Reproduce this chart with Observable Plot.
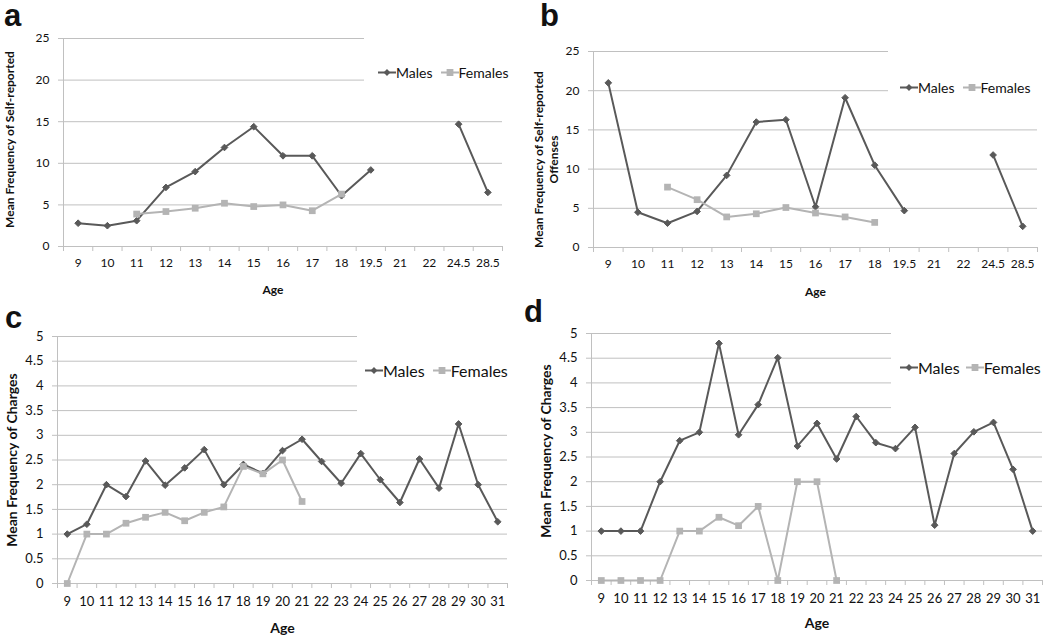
<!DOCTYPE html>
<html>
<head>
<meta charset="utf-8">
<script src="https://cdn.jsdelivr.net/npm/d3@7"></script>
<script src="https://cdn.jsdelivr.net/npm/@observablehq/plot@0.6"></script>
<style>
  body { margin: 0; background: #fff; }
  #root { position: relative; width: 1050px; height: 635px; overflow: hidden; font-family: Lato, sans-serif; background: #fff; }
  .panel { position: absolute; }
  .letter { position: absolute; font: bold 31px "Liberation Sans", Arial, sans-serif; color: #111; line-height: 1; }
  .legbox { position: absolute; background: #fff; }
  .leg { position: absolute; display: flex; align-items: center; white-space: nowrap; transform: translateY(-50%); color: #111; font-family: Lato, sans-serif; }
  .leg svg { display: block; }
</style>
</head>
<body>
<div id="root"></div>
<script>
// ---- Data ----
const agesAB = ["9","10","11","12","13","14","15","16","17","18","19.5","21","22","24.5","28.5"];
const malesA   = [2.8, 2.5, 3.1, 7.1, 9.0, 11.9, 14.4, 10.9, 10.9, 6.1, 9.2, null, null, 14.7, 6.5];
const femalesA = [null, null, 3.9, 4.2, 4.6, 5.2, 4.8, 5.0, 4.3, 6.3, null, null, null, null, null];
const malesB   = [21.0, 4.5, 3.1, 4.6, 9.2, 16.0, 16.3, 5.2, 19.1, 10.5, 4.7, null, null, 11.8, 2.7];
const femalesB = [null, null, 7.7, 6.1, 3.9, 4.3, 5.1, 4.4, 3.9, 3.2, null, null, null, null, null];

const agesCD = ["9","10","11","12","13","14","15","16","17","18","19","20","21","22","23","24","25","26","27","28","29","30","31"];
const malesC   = [1.0, 1.2, 2.0, 1.76, 2.48, 1.99, 2.34, 2.71, 2.0, 2.41, 2.23, 2.69, 2.92, 2.47, 2.03, 2.63, 2.1, 1.64, 2.52, 1.93, 3.23, 2.0, 1.25];
const femalesC = [0, 1.0, 1.0, 1.22, 1.34, 1.44, 1.27, 1.44, 1.55, 2.37, 2.22, 2.5, 1.66, null, null, null, null, null, null, null, null, null, null];
const malesD   = [1.0, 1.0, 1.0, 2.0, 2.83, 3.0, 4.8, 2.95, 3.56, 4.51, 2.72, 3.18, 2.46, 3.32, 2.79, 2.67, 3.1, 1.12, 2.57, 3.01, 3.2, 2.25, 1.0];
const femalesD = [0, 0, 0, 0, 1.0, 1.0, 1.28, 1.11, 1.5, 0, 2.0, 2.0, 0, null, null, null, null, null, null, null, null, null, null];

const yTicksAB = [0, 5, 10, 15, 20, 25];
const yTicksCD = [0, 0.5, 1, 1.5, 2, 2.5, 3, 3.5, 4, 4.5, 5];

const seriesNames = ["Males", "Females"];
const titleA = "Mean Frequency of Self-reported";
const titleB = "Mean Frequency of Self-reported\nOffenses";
const titleCD = "Mean Frequency of Charges";
const xTitle = "Age";

// ---- Styles ----
const gridColor = "#c0c0c0";
const maleColor = "#595959";
const femaleColor = "#b4b4b4";
const textColor = "#111";

function panel(cfg) {
  const n = cfg.ages.length;
  const rows = cfg.ages.map((age, i) => ({i, age, m: cfg.males[i], f: cfg.females[i]}));
  return Plot.plot({
    width: cfg.width, height: cfg.height,
    marginLeft: cfg.mL, marginRight: cfg.mR, marginTop: cfg.mT, marginBottom: cfg.mB,
    style: {background: "white", color: textColor, fontFamily: "Lato, sans-serif", fontSize: cfg.tickFont + "px", overflow: "visible"},
    x: {domain: [-0.5, n - 0.5], label: null},
    y: {domain: [0, d3.max(cfg.yTicks)], label: null},
    marks: [
      Plot.gridY(cfg.yTicks, {stroke: gridColor, strokeOpacity: 1, strokeWidth: 1}),
      Plot.axisY(cfg.yTicks, {tickSize: 5, tickPadding: cfg.yPad, stroke: gridColor, fill: textColor, fontSize: cfg.tickFont, label: null, tickFormat: d => String(d)}),
      Plot.ruleX([-0.5], {stroke: gridColor}),
      Plot.axisX(d3.range(-0.5, n, 1), {tickSize: 5, stroke: gridColor, label: null, tickFormat: () => ""}),
      Plot.axisX(d3.range(n), {tickSize: 0, tickPadding: cfg.xPad, fill: textColor, fontSize: cfg.tickFont, label: null, tickFormat: i => cfg.ages[i]}),
      Plot.line(rows, {x: "i", y: "m", stroke: maleColor, strokeWidth: 2}),
      Plot.dot(rows, {x: "i", y: "m", symbol: "diamond2", r: 3, fill: maleColor, stroke: maleColor, strokeWidth: 1}),
      Plot.line(rows, {x: "i", y: "f", stroke: femaleColor, strokeWidth: 2}),
      Plot.dot(rows, {x: "i", y: "f", symbol: "square", r: 3.8, fill: femaleColor}),
      Plot.text([cfg.yTitle], {frameAnchor: "left", textAnchor: "middle", lineAnchor: "middle", rotate: -90, dx: cfg.ytDx, dy: cfg.ytDy, fontWeight: "bold", fontSize: cfg.titleFont, fill: textColor, lineHeight: 1.3}),
      Plot.text([xTitle], {frameAnchor: "bottom", textAnchor: "middle", lineAnchor: "middle", dx: cfg.xtDx, dy: cfg.xtDy, fontWeight: "bold", fontSize: cfg.titleFont, fill: textColor})
    ]
  });
}

const root = document.getElementById("root");

function place(el, left, top) {
  const wrap = document.createElement("div");
  wrap.className = "panel";
  wrap.style.left = left + "px";
  wrap.style.top = top + "px";
  wrap.appendChild(el);
  root.appendChild(wrap);
}

function swatch(color, symbol) {
  const ns = "http://www.w3.org/2000/svg";
  const svg = document.createElementNS(ns, "svg");
  svg.setAttribute("width", 18); svg.setAttribute("height", 10);
  const line = document.createElementNS(ns, "line");
  line.setAttribute("x1", 0); line.setAttribute("x2", 18);
  line.setAttribute("y1", 5); line.setAttribute("y2", 5);
  line.setAttribute("stroke", color); line.setAttribute("stroke-width", 2);
  svg.appendChild(line);
  const m = document.createElementNS(ns, "path");
  if (symbol === "diamond") m.setAttribute("d", "M9,1.6L12.4,5L9,8.4L5.6,5Z");
  else m.setAttribute("d", "M5.6,1.6H12.4V8.4H5.6Z");
  m.setAttribute("fill", color);
  svg.appendChild(m);
  return svg;
}

function legend(box, cx, cy, fontSize, gap) {
  const b = document.createElement("div");
  b.className = "legbox";
  Object.assign(b.style, {left: box[0] + "px", top: box[1] + "px", width: box[2] + "px", height: box[3] + "px"});
  const l = document.createElement("div");
  l.className = "leg";
  Object.assign(l.style, {left: (cx - box[0]) + "px", top: (cy - box[1]) + "px", fontSize: fontSize + "px"});
  [[maleColor, "diamond"], [femaleColor, "square"]].forEach(([c, s], k) => {
    const item = document.createElement("div");
    item.style.display = "flex"; item.style.alignItems = "center";
    if (k > 0) item.style.marginLeft = gap + "px";
    item.appendChild(swatch(c, s));
    const t = document.createElement("span");
    t.textContent = seriesNames[k];
    item.appendChild(t);
    l.appendChild(item);
  });
  b.appendChild(l);
  root.appendChild(b);
}

function letter(txt, left, top) {
  const d = document.createElement("div");
  d.className = "letter";
  d.textContent = txt;
  d.style.left = left + "px"; d.style.top = top + "px";
  root.appendChild(d);
}

// Panel a
place(panel({ages: agesAB, males: malesA, females: femalesA, yTicks: yTicksAB,
  width: 520, height: 305, mL: 63, mR: 18, mT: 38, mB: 59,
  tickFont: 12, titleFont: 12, yPad: 9, xPad: 12,
  yTitle: titleA, ytDx: -55, ytDy: -3, xtDx: -10, xtDy: 44}), 0, 0);
// Panel b
place(panel({ages: agesAB, males: malesB, females: femalesB, yTicks: yTicksAB,
  width: 530, height: 305, mL: 73, mR: 13, mT: 51, mB: 58,
  tickFont: 12, titleFont: 12, yPad: 9, xPad: 12,
  yTitle: titleB, ytDx: -48, ytDy: 10, xtDx: 0, xtDy: 45}), 520, 0);
// Panel c
place(panel({ages: agesCD, males: malesC, females: femalesC, yTicks: yTicksCD,
  width: 520, height: 330, mL: 57, mR: 13, mT: 31, mB: 52,
  tickFont: 13, titleFont: 14, yPad: 9, xPad: 13,
  yTitle: titleCD, ytDx: -46, ytDy: 0, xtDx: 0, xtDy: 45}), 0, 305);
// Panel d
place(panel({ages: agesCD, males: malesD, females: femalesD, yTicks: yTicksCD,
  width: 530, height: 330, mL: 71, mR: 8, mT: 28, mB: 55,
  tickFont: 13, titleFont: 14, yPad: 9, xPad: 13,
  yTitle: titleCD, ytDx: -46, ytDy: -6, xtDx: 0, xtDy: 43}), 520, 305);

// Legends (white boxes like the source, sitting over the upper gridlines)
legend([364, 30, 152, 70], 378, 72, 14, 8);
legend([888, 45, 160, 65], 900, 87, 14, 8);
legend([357, 330, 160, 90], 365, 370, 16, 8);
legend([891, 326, 157, 92], 900, 367, 16, 6);

// Panel letters
letter("a", 4, 0);
letter("b", 540, 0);
letter("c", 5, 302);
letter("d", 524, 296);
</script>
</body>
</html>
